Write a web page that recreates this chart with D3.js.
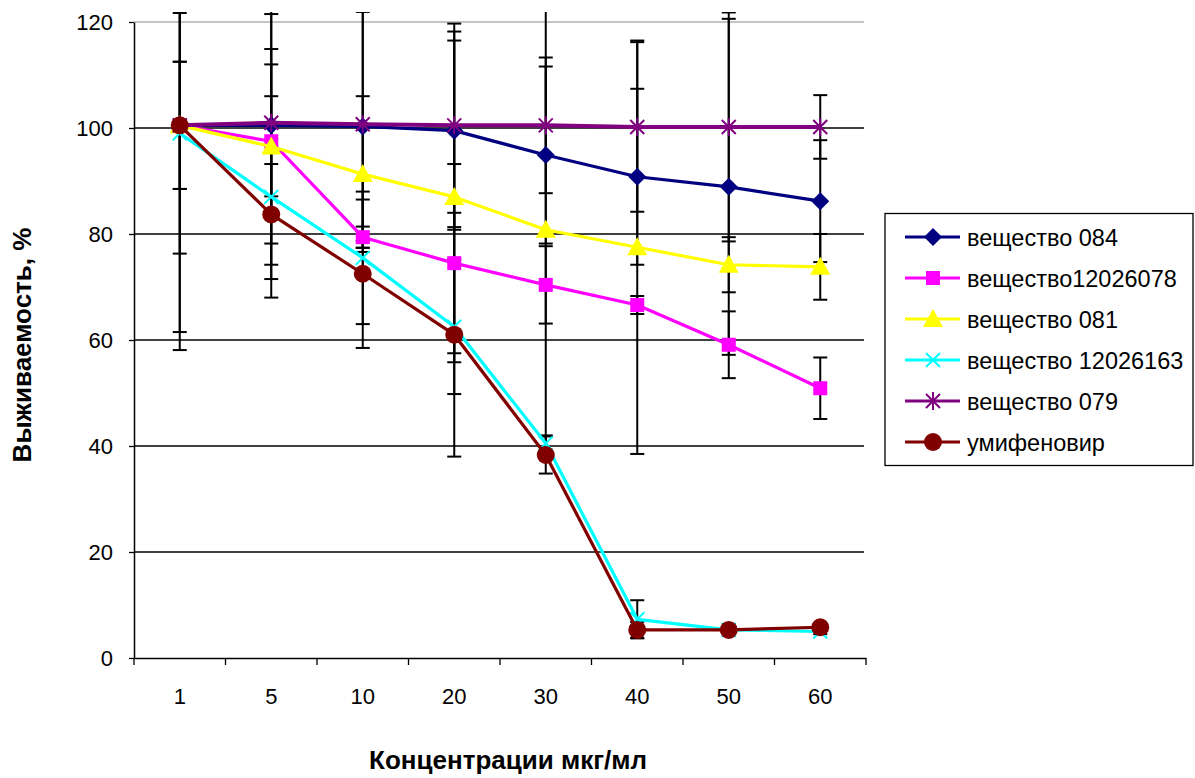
<!DOCTYPE html>
<html><head><meta charset="utf-8">
<script src="https://cdn.jsdelivr.net/npm/d3@7"></script>
<style>body{margin:0;background:#fff;} text{font-family:"Liberation Sans",Arial,sans-serif;}</style>
</head><body><svg id="c" width="1195" height="778"></svg>
<script>
const categories = ["1","5","10","20","30","40","50","60"];
const yTicks = [0,20,40,60,80,100,120];
const seriesNames = ["вещество 084","вещество12026078","вещество 081","вещество 12026163","вещество 079","умифеновир"];
const s084  = [100.5,100.5,100.3,99.5,94.9,90.8,88.9,86.2];
const e084  = [12,22.3,21.6,18.7,16.7,16.6,31.7,11.5];
const s078  = [100.5,97.5,79.4,74.5,70.4,66.6,59.1,50.9];
const e078  = [42.4,14.5,2,18.7,7.3,1.7,6.3,5.8];
const s081  = [100.5,96.5,91.3,87,80.8,77.5,74.2,73.8];
const e081  = [39,25,14.7,29.5,41.5,39,5.2,6.2];
const s163  = [99,87,75.5,62.5,40.5,7.3,5.3,5];
const e163  = [22.7,19,12.5,12.7,1.5,3.6,0.5,0.5];
const s079  = [100.5,101,100.7,100.5,100.5,100.2,100.2,100.2];
const e079  = [12,13.9,23.3,19.2,12.8,16,21.6,6];
const sUmi  = [100.5,83.7,72.5,61,38.3,5.3,5.3,5.8];
const eUmi  = [0,9.5,14,23,3.5,1.5,0.5,0.5];

const colors = ["#000080","#FF00FF","#FFFF00","#00FFFF","#800080","#800000"];
const shapes = ["diamond","square","triangle","x","star","circle"];
const values = [s084,s078,s081,s163,s079,sUmi];
const errors = [e084,e078,e081,e163,e079,eUmi];
const series = seriesNames.map((n,i)=>({name:n,color:colors[i],shape:shapes[i],values:values[i],errors:errors[i]}));

const svg = d3.select("#c");
const x = d3.scaleBand().domain(categories).range([134,866]).padding(0);
const y = d3.scaleLinear().domain([0,120]).range([658,22]);
const cx = c => x(c)+x.bandwidth()/2;

// gridlines
svg.append("g").selectAll("line").data(yTicks.filter(t=>t>0)).join("line")
  .attr("x1",134).attr("x2",864).attr("y1",d=>y(d)).attr("y2",d=>y(d))
  .attr("stroke",d=>d===120?"#b0b0b0":"#000").attr("stroke-width",d=>d===120?1.5:1.3);

// axes
const ya = svg.append("g").attr("transform","translate(134,0)")
  .call(d3.axisLeft(y).tickValues(yTicks).tickSize(5).tickPadding(16).tickSizeOuter(0));
ya.select(".domain").attr("stroke","#000").attr("stroke-width",1.5);
ya.selectAll("line").attr("stroke","#000").attr("stroke-width",1.3);
ya.selectAll("text").attr("font-size",22).attr("fill","#000");

const xa = svg.append("g").attr("transform","translate(0,658)")
  .call(d3.axisBottom(x).tickSize(0).tickPadding(30));
xa.select(".domain").attr("stroke","#000").attr("stroke-width",1.5);
xa.selectAll("text").attr("font-size",22).attr("fill","#000");
// category boundary ticks
svg.append("g").selectAll("line").data(categories.concat(["end"])).join("line")
  .attr("x1",(d,i)=>i<categories.length?x(d):x.range()[1]).attr("x2",(d,i)=>i<categories.length?x(d):x.range()[1])
  .attr("y1",658).attr("y2",665).attr("stroke","#000").attr("stroke-width",1.3);

// titles
svg.append("text").attr("x",508).attr("y",769).attr("text-anchor","middle")
  .attr("font-size",26).attr("font-weight","bold").text("Концентрации мкг/мл");
svg.append("text").attr("transform","translate(31,345) rotate(-90)").attr("text-anchor","middle")
  .attr("font-size",26).attr("font-weight","bold").text("Выживаемость, %");

// error bars (clipped)
svg.append("clipPath").attr("id","clip").append("rect").attr("x",120).attr("y",12).attr("width",760).attr("height",660);
const eb = svg.append("g").attr("clip-path","url(#clip)");
series.forEach(s=>{
  categories.forEach((c,i)=>{
    const e = s.errors[i]; if(!e) return;
    const v = s.values[i], xx = cx(c);
    const g = eb.append("g").attr("stroke","#000").attr("stroke-width",2);
    g.append("line").attr("x1",xx).attr("x2",xx).attr("y1",y(v+e)).attr("y2",y(v-e));
    [v+e,v-e].forEach(t=>g.append("line").attr("x1",xx-7).attr("x2",xx+7).attr("y1",y(t)).attr("y2",y(t)));
  });
});

function marker(g,shape,color,px,py){
  if(shape==="diamond") g.append("path").attr("d",`M${px},${py-9}L${px+9},${py}L${px},${py+9}L${px-9},${py}Z`).attr("fill",color);
  else if(shape==="square") g.append("rect").attr("x",px-7).attr("y",py-7).attr("width",14).attr("height",14).attr("fill",color);
  else if(shape==="triangle") g.append("path").attr("d",`M${px},${py-10}L${px+10},${py+8}L${px-10},${py+8}Z`).attr("fill",color);
  else if(shape==="circle") g.append("circle").attr("cx",px).attr("cy",py).attr("r",9).attr("fill",color);
  else if(shape==="x"){
    g.append("path").attr("d",`M${px-7},${py-7}L${px+7},${py+7}M${px-7},${py+7}L${px+7},${py-7}`).attr("stroke",color).attr("stroke-width",2);
  } else if(shape==="star"){
    g.append("path").attr("d",`M${px-7},${py-7}L${px+7},${py+7}M${px-7},${py+7}L${px+7},${py-7}M${px},${py-9}L${px},${py+9}`).attr("stroke",color).attr("stroke-width",2);
  }
}

const line = d3.line().x((d,i)=>cx(categories[i])).y(d=>y(d));
series.forEach(s=>{
  const g = svg.append("g");
  g.append("path").attr("d",line(s.values)).attr("fill","none").attr("stroke",s.color)
    .attr("stroke-width",s.shape==="star"?4:3.2).attr("stroke-linejoin","round");
  s.values.forEach((v,i)=>marker(g,s.shape,s.color,cx(categories[i]),y(v)));
});

// legend
const lg = svg.append("g");
lg.append("rect").attr("x",885).attr("y",213.5).attr("width",308).attr("height",252).attr("fill","#fff").attr("stroke","#000").attr("stroke-width",1.3);
series.forEach((s,i)=>{
  const ly = 237 + i*41;
  lg.append("line").attr("x1",905).attr("x2",960).attr("y1",ly).attr("y2",ly).attr("stroke",s.color).attr("stroke-width",3.2);
  marker(lg,s.shape,s.color,933,ly);
  lg.append("text").attr("x",967).attr("y",ly+8.5).attr("font-size",23.5).attr("fill","#000").text(s.name);
});
</script></body></html>
